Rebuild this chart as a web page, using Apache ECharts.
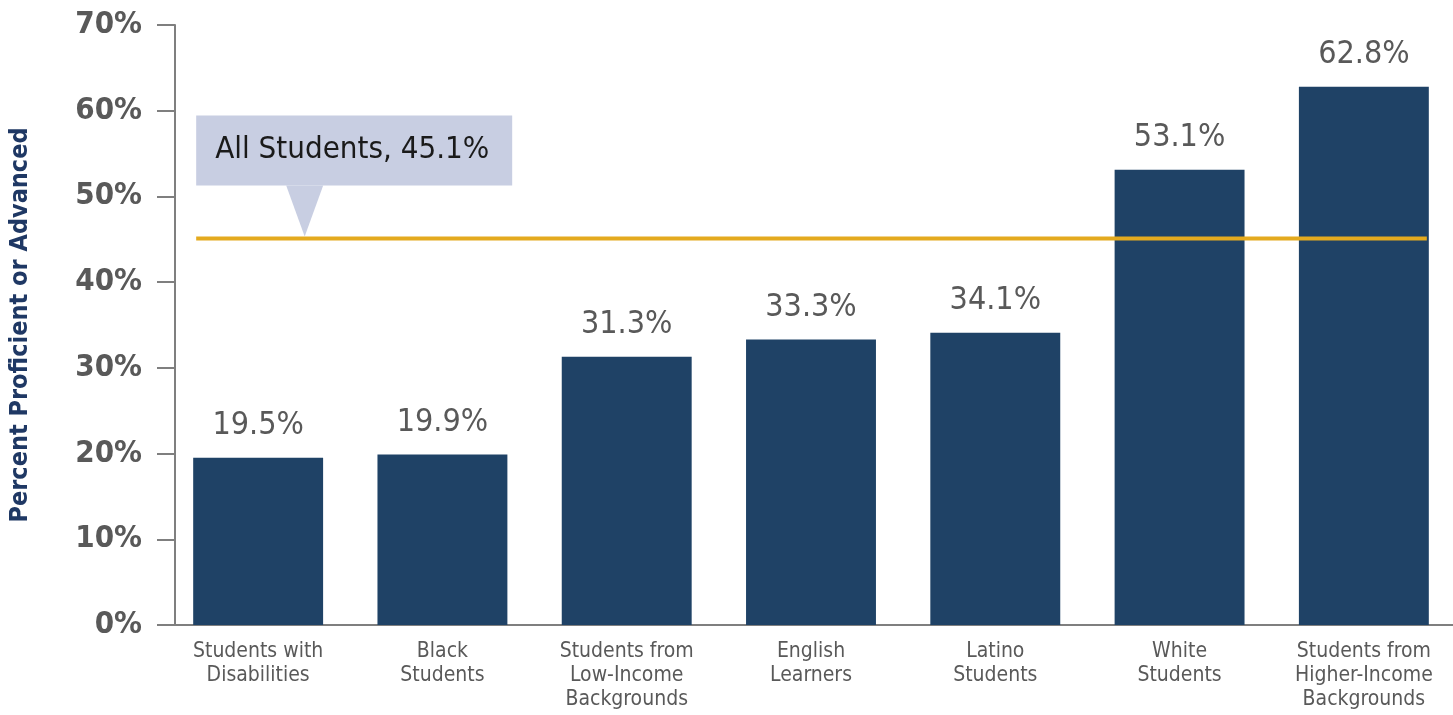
<!DOCTYPE html>
<html>
<head>
<meta charset="utf-8">
<script src="https://cdn.jsdelivr.net/npm/echarts@6/dist/echarts.min.js"></script>
<style>
  html, body { margin: 0; padding: 0; background: #ffffff; }
  #chart { width: 1453px; height: 715px; }
</style>
</head>
<body>
<div id="chart"></div>
<script>
const categories = [
  'Students with\nDisabilities',
  'Black\nStudents',
  'Students from\nLow-Income\nBackgrounds',
  'English\nLearners',
  'Latino\nStudents',
  'White\nStudents',
  'Students from\nHigher-Income\nBackgrounds'
];
const values = [19.5, 19.9, 31.3, 33.3, 34.1, 53.1, 62.8];
const allStudentsLabel = 'All Students';
const allStudentsValue = 45.1;
const yMin = 0, yMax = 70, yStep = 10;
const yAxisTitle = 'Percent Proficient or Advanced';

const FONT = "'DejaVu Sans Condensed', 'Liberation Sans Narrow', sans-serif";
const BAR_FRAC = 0.705;

const chart = echarts.init(document.getElementById('chart'), null, { renderer: 'canvas' });

const option = {
  animation: false,
  backgroundColor: '#ffffff',
  grid: { left: 166, top: 25, width: 1290, bottom: 90, containLabel: false, outerBoundsMode: 'none' },
  xAxis: {
    type: 'category',
    data: categories,
    axisLine: { show: true, lineStyle: { color: '#7f7f7f', width: 2 } },
    axisTick: { show: false },
    axisLabel: {
      interval: 0,
      fontFamily: FONT,
      fontSize: 21,
      lineHeight: 24,
      color: '#595959',
      margin: 15
    }
  },
  yAxis: {
    type: 'value',
    min: yMin, max: yMax, interval: yStep,
    offset: -9,
    name: yAxisTitle,
    nameLocation: 'middle',
    nameGap: 142,
    nameRotate: 90,
    nameTextStyle: { fontFamily: FONT, fontSize: 25, fontWeight: 'bold', color: '#1f3864' },
    axisLine: { show: true, lineStyle: { color: '#7f7f7f', width: 2 } },
    axisTick: { show: true, length: 18, lineStyle: { color: '#7f7f7f', width: 2 } },
    splitLine: { show: false },
    axisLabel: {
      formatter: v => v + '%',
      fontFamily: FONT,
      fontSize: 31,
      fontWeight: 'bold',
      color: '#595959',
      margin: 33
    }
  },
  series: [
    {
      type: 'bar',
      data: values,
      barWidth: (BAR_FRAC * 100) + '%',
      itemStyle: { color: '#1f4266' },
      label: {
        show: true,
        position: 'top',
        distance: 16,
        formatter: p => p.value.toFixed(1) + '%',
        fontFamily: FONT,
        fontSize: 32,
        color: '#595959'
      },
      z: 2
    },
    {
      type: 'custom',
      z: 5,
      clip: false,
      data: [[0, allStudentsValue]],
      renderItem: function (params, api) {
        const val = api.value(1);
        const pStart = api.coord([0, val]);
        const pEnd = api.coord([categories.length - 1, val]);
        const bw = api.size([1, 0])[0] * BAR_FRAC;
        const x0 = pStart[0] - bw / 2 + 3;
        const x1 = pEnd[0] + bw / 2 - 2;
        const y = pStart[1];
        const boxW = 316, boxH = 70, boxGap = 53;
        return {
          type: 'group',
          children: [
            {
              type: 'rect',
              shape: { x: x0, y: y - boxGap - boxH, width: boxW, height: boxH },
              style: { fill: '#c8cee2' }
            },
            {
              type: 'polygon',
              shape: { points: [[x0 + 90, y - boxGap], [x0 + 127, y - boxGap], [x0 + 108.5, y - 2]] },
              style: { fill: '#c8cee2' }
            },
            {
              type: 'rect',
              shape: { x: x0, y: y - 2, width: x1 - x0, height: 4 },
              style: { fill: '#e4aa1e' }
            },
            {
              type: 'text',
              style: {
                x: x0 + 19,
                y: y - boxGap - boxH / 2,
                text: allStudentsLabel + ', ' + val.toFixed(1) + '%',
                fontFamily: FONT,
                fontSize: 31,
                fill: '#1a1a1a',
                verticalAlign: 'middle',
                align: 'left'
              }
            }
          ]
        };
      }
    }
  ]
};

chart.setOption(option);
</script>
</body>
</html>
